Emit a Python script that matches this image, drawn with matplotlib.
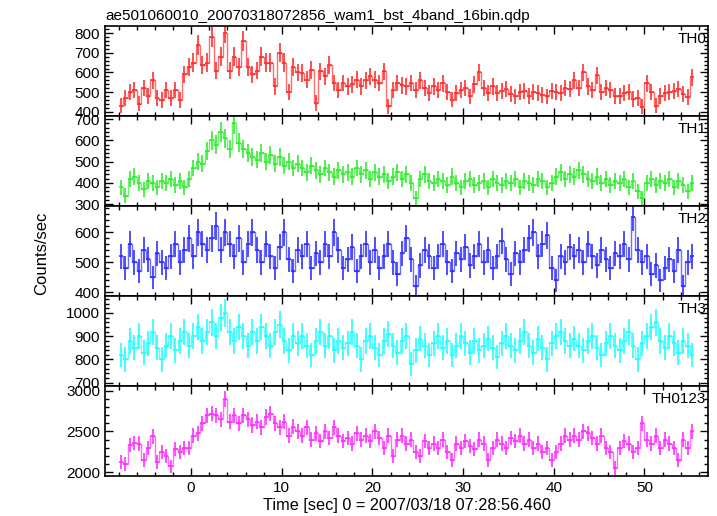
import numpy as np
import matplotlib
matplotlib.use("Agg")
import matplotlib.pyplot as plt
from matplotlib.ticker import MultipleLocator, AutoMinorLocator

plt.rcParams['font.family'] = ['Liberation Sans', 'DejaVu Sans']

# bin centres [s], 0.5 s bins
t0 = -7.75
binw = 0.5

th0 = [430, 470, 500, 510, 440, 520, 480, 560, 470, 460,
       510, 470, 510, 460, 590, 630, 650, 740, 640, 650,
       780, 610, 680, 800, 610, 680, 630, 760, 630, 590,
       610, 680, 650, 650, 530, 700, 650, 500, 630, 600,
       597, 563, 613, 444, 605, 580, 640, 546, 512, 546,
       529, 540, 563, 529, 560, 580, 563, 546, 605, 427,
       512, 546, 535, 529, 546, 512, 560, 520, 495, 529,
       512, 545, 500, 461, 495, 510, 520, 478, 540, 600,
       520, 495, 530, 495, 505, 515, 490, 478, 500, 505,
       480, 500, 495, 485, 478, 505, 500, 495, 520, 515,
       560, 520, 600, 530, 510, 585, 500, 520, 510, 480,
       480, 495, 500, 465, 470, 425, 545, 500, 430, 480,
       495, 500, 505, 515, 490, 475, 575]

th1 = [380, 340, 420, 430, 400, 370, 410, 400, 380, 410,
       400, 420, 390, 410, 380, 420, 470, 500, 490, 550,
       600, 580, 640, 610, 560, 680, 590, 560, 540, 520,
       510, 540, 500, 530, 490, 520, 480, 500, 470, 490,
       470, 450, 480, 460, 440, 470, 450, 430, 460, 440,
       450, 430, 470, 440, 460, 420, 450, 430, 440, 410,
       430, 450, 420, 440, 400, 330, 420, 440, 410, 400,
       420, 410, 390, 430, 400, 380, 410, 420, 390, 400,
       410, 380, 420, 400, 390, 410, 400, 420, 380, 410,
       400, 390, 420, 410, 380, 400, 430, 450, 420, 440,
       430, 460, 440, 420, 410, 430, 400, 420, 390, 410,
       400, 420, 380, 410, 360, 330, 400, 420, 390, 410,
       400, 420, 380, 410, 390, 360, 400]

th2 = [520, 480, 560, 500, 470, 540, 510, 450, 530, 500,
       480, 520, 560, 500, 540, 580, 520, 600, 560, 540,
       580, 620, 540, 600, 560, 520, 580, 500, 560, 600,
       540, 500, 560, 520, 480, 550, 600, 510, 470, 540,
       520, 560, 480, 530, 500, 560, 520, 600, 540, 480,
       510, 550, 470, 520, 560, 500, 540, 480, 520, 560,
       500, 460, 530, 580, 510, 420, 490, 540, 520, 480,
       520, 560, 500, 470, 530, 510, 550, 490, 520, 560,
       500, 540, 480, 520, 570, 510, 460, 530, 500, 540,
       580, 600, 520, 560, 590, 480, 440, 520, 500, 550,
       520, 540, 500, 560, 520, 490, 540, 510, 480, 530,
       520, 560, 510, 650, 540, 500, 520, 460, 490, 440,
       480, 510, 470, 540, 420, 500, 520]

th3 = [820, 800, 880, 850, 900, 830, 870, 920, 850, 800,
       860, 900, 840, 880, 920, 860, 900, 940, 880, 920,
       960, 900, 980, 1000, 920, 880, 940, 900, 860, 920,
       880, 940, 900, 860, 920, 950, 880, 840, 900, 870,
       900, 860, 820, 880, 920, 860, 900, 840, 880, 850,
       870, 920, 860, 800, 880, 900, 850, 820, 880, 910,
       860, 830, 880, 900, 780, 840, 890, 860, 820, 870,
       900, 850, 880, 820, 860, 900, 870, 830, 880, 840,
       860, 890, 850, 810, 870, 900, 860, 840, 880, 920,
       860, 830, 890, 850, 800, 870, 900, 920, 880, 860,
       890, 860, 840, 880, 900, 850, 820, 870, 900, 860,
       840, 880, 920, 860, 800, 870, 900, 940, 960, 880,
       850, 900, 870, 830, 880, 860, 820]

th0123 = [2120, 2100, 2330, 2360, 2350, 2150, 2300, 2440, 2120, 2250,
          2200, 2070, 2280, 2250, 2300, 2300, 2450, 2480, 2600, 2700,
          2720, 2700, 2650, 2900, 2620, 2700, 2600, 2700, 2650, 2580,
          2620, 2550, 2680, 2720, 2600, 2550, 2620, 2450, 2560, 2500,
          2450, 2550, 2400, 2480, 2380, 2500, 2420, 2550, 2450, 2380,
          2420, 2350, 2480, 2400, 2450, 2380, 2500, 2420, 2300, 2450,
          2200, 2400, 2450, 2350, 2400, 2250, 2200, 2380, 2300, 2350,
          2300, 2400, 2250, 2150, 2350, 2300, 2380, 2320, 2280, 2400,
          2350, 2150, 2300, 2400, 2350, 2300, 2420, 2380, 2450, 2350,
          2400, 2300, 2350, 2250, 2300, 2150, 2250, 2350, 2450, 2400,
          2450, 2400, 2500, 2480, 2420, 2350, 2450, 2300, 2250, 2050,
          2300, 2380, 2350, 2250, 2300, 2600, 2400, 2350, 2450, 2300,
          2400, 2350, 2300, 2150, 2400, 2300, 2500]

series = [th0, th1, th2, th3, th0123]
names = ['TH0', 'TH1', 'TH2', 'TH3', 'TH0123']
colors = ['#ff3030', '#30ee30', '#3030ff', '#20ffff', '#ff30ff']
ylims = [(378, 837), (291, 715), (388, 687), (686, 1073), (1951, 3061)]
majors = [100, 100, 100, 100, 500]

fig, axes = plt.subplots(5, 1, sharex=True, figsize=(7.17, 5.16), dpi=100)
fig.subplots_adjust(left=0.1464, right=0.9874, bottom=0.0775, top=0.9496, hspace=0)

for ax, y, name, c, yl, mj in zip(axes, series, names, colors, ylims, majors):
    y = np.array(y, dtype=float)
    t = t0 + binw * np.arange(len(y))
    err = 1.3 * np.sqrt(y / binw)   # rate error, a bit above pure poisson
    ax.step(t, y, where='mid', color=c, lw=1.0, alpha=0.7)
    ax.errorbar(t, y, xerr=binw / 2, yerr=err, fmt='none', ecolor=c, elinewidth=1.2)
    ax.set_ylim(yl)
    ax.yaxis.set_major_locator(MultipleLocator(mj))
    ax.yaxis.set_minor_locator(AutoMinorLocator(5))
    ax.xaxis.set_major_locator(MultipleLocator(10))
    ax.xaxis.set_minor_locator(MultipleLocator(2))
    ax.tick_params(which='both', direction='in', top=True, right=True, labelsize=11, width=1)
    ax.tick_params(which='major', length=6)
    ax.tick_params(which='minor', length=3)
    for s in ax.spines.values():
        s.set_linewidth(1.2)
    ax.text(0.997, 0.93, name, transform=ax.transAxes, ha='right', va='top', fontsize=11)

axes[-1].set_xlim(-9.5, 57.0)
axes[-1].set_xlabel('Time [sec] 0 = 2007/03/18 07:28:56.460', fontsize=11.7, labelpad=2)
fig.text(0.058, 0.51, 'Counts/sec', rotation=90, ha='center', va='center', fontsize=12)
axes[0].set_title('ae501060010_20070318072856_wam1_bst_4band_16bin.qdp', loc='left', fontsize=11, pad=4)

fig.savefig('out.png', dpi=100)
